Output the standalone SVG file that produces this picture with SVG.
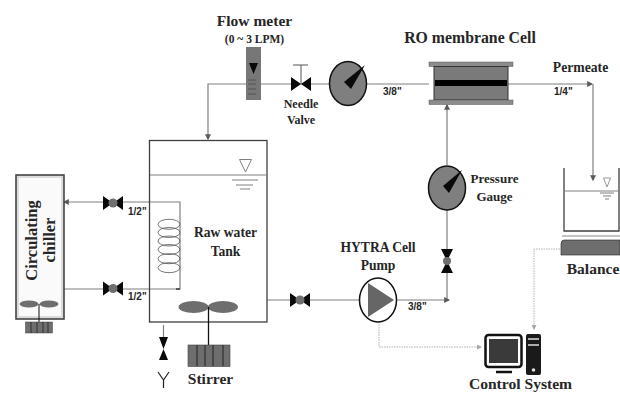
<svg xmlns="http://www.w3.org/2000/svg" width="620" height="393" viewBox="0 0 620 393">
<style>
.t{font-family:"Liberation Serif",serif;font-weight:bold;fill:#262626;text-anchor:middle}
.s{font-family:"Liberation Sans",sans-serif;font-weight:bold;font-size:10px;fill:#262626}
.p{fill:none;stroke:#7f7f7f;stroke-width:1.2}
.d{fill:none;stroke:#b0b0b0;stroke-width:1;stroke-dasharray:1.5 1}
.o{fill:none;stroke:#3f3f3f;stroke-width:1.3}
.l{fill:none;stroke:#7f7f7f;stroke-width:1}
.g{fill:#7f7f7f;stroke:#111;stroke-width:1.5}
.gr{fill:#6e6e6e}
.k{fill:#0a0a0a}
</style>
<defs>
<marker id="a" markerWidth="5" markerHeight="5" refX="4" refY="2.5" orient="auto"><path d="M0 0L5 2.5L0 5Z" fill="#595959"/></marker>
<marker id="b" markerWidth="5" markerHeight="5" refX="4" refY="2.5" orient="auto"><path d="M0 0L5 2.5L0 5Z" fill="#a6a6a6"/></marker>
<g id="hv"><path d="M-10-7L0 0L-10 7ZM10-7L0 0L10 7Z" fill="#0a0a0a"/><circle r="4.5" fill="#6e6e6e"/></g>
<g id="vv"><path d="M-6-12L0 0L6-12ZM-6 12L0 0L6 12Z" fill="#0a0a0a"/><circle r="4" fill="#6e6e6e"/></g>
</defs>
<g id="connectors">
<path class="p" d="M246 84H208V139" marker-end="url(#a)"/>
<path class="p" d="M261 84H429M508 84H592" marker-end="url(#a)"/>
<path class="p" d="M593 84V180" marker-end="url(#a)"/>
<path class="p" d="M447 165V105" marker-end="url(#a)"/>
<path class="p" d="M447 210V300"/>
<path class="p" d="M397 300H449" marker-end="url(#a)"/>
<path class="p" d="M267 300H359"/>
<path class="p" d="M150 202H64" marker-end="url(#a)"/>
<path class="p" d="M64 289H150"/>
<path class="p" d="M163.500 325V338"/>
<path class="d" d="M560 249H534V329" marker-end="url(#b)"/>
<path class="d" d="M379 322V347H481" marker-end="url(#b)"/>
</g>
<g id="tank">
<rect x="149.500" y="140.500" width="117.500" height="181.500" fill="#fff" stroke="#3f3f3f" stroke-width="1.300"/>
<path class="l" d="M150 175H267"/>
<path d="M239.500 159.500H251.500L245.500 172Z" fill="#fff" stroke="#7f7f7f"/>
<path class="l" d="M232 180H258M236 185H253M240 189H250"/>
<path class="p" d="M150 202H180V289H150"/>
<path d="M176 289H180" stroke="#595959" stroke-width="2"/>
<g fill="none" stroke="#555" stroke-width=".8">
<ellipse cx="169" cy="224.300" rx="11" ry="5"/><ellipse cx="169" cy="232.500" rx="11" ry="5"/><ellipse cx="169" cy="241" rx="11" ry="5"/><ellipse cx="169" cy="249.500" rx="11" ry="5"/><ellipse cx="169" cy="258.700" rx="11" ry="5"/><ellipse cx="169" cy="267.700" rx="11" ry="5"/>
</g>
<ellipse cx="193.500" cy="307" rx="15" ry="6" class="gr"/><ellipse cx="223" cy="307" rx="15" ry="6" class="gr"/>
<path d="M208.500 307V345" stroke="#111" stroke-width="1.300" fill="none"/>
<text class="t" x="225.500" y="237" font-size="13.600">Raw water</text>
<text class="t" x="225.500" y="256" font-size="13.600">Tank</text>
</g>
<g id="stirrer">
<rect x="188" y="345" width="42" height="21.500" class="gr" stroke="#444" stroke-width=".6"/>
<path d="M197 345V366M205 345V366M213 345V366M223 345V366" stroke="#222" stroke-width="1"/>
<text class="t" x="210.500" y="384" font-size="15.500">Stirrer</text>
</g>
<g id="drain-valve"><path d="M159 337H168L163.500 349ZM159 360H168L163.500 349Z" class="k"/><path d="M163.500 380V388M158 372L163.500 380L169 372" fill="none" stroke="#222" stroke-width="1.200"/></g>
<g id="chiller">
<rect x="16" y="175" width="48" height="144" fill="#dcdcdc" stroke="#444" stroke-width="1.600"/>
<rect x="19" y="178" width="42" height="138" fill="#fafafa"/>
<text class="t" font-size="16.500" transform="translate(37 240.500) rotate(-90)">Circulating</text>
<text class="t" font-size="16.500" transform="translate(55 240) rotate(-90)">chiller</text>
<ellipse cx="29" cy="304" rx="9.500" ry="3.500" class="gr"/><ellipse cx="49" cy="304" rx="9.500" ry="3.500" class="gr"/>
<path d="M39 304V322" stroke="#111" fill="none"/>
<rect x="25.500" y="322" width="27" height="11" class="gr" stroke="#444" stroke-width=".5"/>
<path d="M31 322V333M37 322V333M43 322V333M48 322V333" stroke="#222" stroke-width=".8"/>
</g>
<use id="valve-upper" href="#hv" x="113" y="203"/>
<use id="valve-lower" href="#hv" x="113" y="288.500"/>
<use id="valve-tank" href="#hv" x="300" y="300"/>
<text class="s" x="128" y="215">1/2"</text>
<text class="s" x="128" y="300">1/2"</text>
<g id="flow-meter">
<rect x="246" y="47" width="15" height="53" fill="#777"/>
<path d="M249 63H258L253.500 74Z" class="k"/>
<path d="M248 80H256M248 84H256M248 89H256M248 94H256" stroke="#555" fill="none"/>
<text class="t" x="254.500" y="26" font-size="15.500">Flow meter</text>
<text class="t" x="254.500" y="42.500" font-size="11.500">(0 ~ 3 LPM)</text>
</g>
<g id="needle-valve">
<path d="M291 77L301 84L291 91ZM311 77L301 84L311 91Z" class="k"/>
<path d="M293 65H308M301 65V84" stroke="#555" fill="none"/>
<text class="t" x="301" y="108" font-size="12">Needle</text>
<text class="t" x="301" y="124" font-size="12">Valve</text>
</g>
<g id="flow-gauge">
<ellipse cx="348" cy="83.500" rx="18.500" ry="22" class="g"/>
<path d="M365 65L351 89L344 82Z" class="k"/>
</g>
<text class="s" x="383" y="95">3/8"</text>
<g id="ro-cell">
<rect x="429" y="62" width="84" height="4.500" fill="#8c8c8c" stroke="#555" stroke-width=".5"/>
<rect x="434" y="66.500" width="74" height="33.500" fill="#7a7a7a" stroke="#333"/>
<rect x="435" y="80" width="72" height="6" fill="#000"/>
<rect x="429" y="100" width="84" height="4.500" fill="#8c8c8c" stroke="#555" stroke-width=".5"/>
<text class="t" x="470" y="43" font-size="15.800">RO membrane Cell</text>
</g>
<text class="t" x="580.500" y="72" font-size="13.700">Permeate</text>
<text class="s" x="554" y="95">1/4"</text>
<g id="pressure-gauge">
<ellipse cx="447" cy="188" rx="18.500" ry="22" class="g"/>
<path d="M462 170L449 193L443 186Z" class="k"/>
<text class="t" x="494.500" y="183" font-size="13">Pressure</text>
<text class="t" x="494.500" y="201" font-size="13">Gauge</text>
</g>
<use id="valve-pump" href="#vv" x="447" y="261"/>
<g id="pump">
<ellipse cx="378" cy="300" rx="18.500" ry="22" fill="#fff" stroke="#111" stroke-width="1.500"/>
<path d="M368 283L394 300L368 317Z" fill="#666"/>
<text class="t" x="378" y="252" font-size="13.600">HYTRA Cell</text>
<text class="t" x="378" y="270" font-size="13.600">Pump</text>
</g>
<text class="s" x="408" y="310">3/8"</text>
<g id="beaker">
<path class="o" d="M564 168V231H619V168" stroke-width="1"/>
<path class="l" d="M564 191H619"/>
<path d="M603.500 178H610.500L607 187Z" fill="#fff" stroke="#7f7f7f" stroke-width=".8"/>
<path class="l" d="M600 193H614M603 196H611M605 199H609"/>
</g>
<g id="balance">
<path d="M562 236H620" stroke="#888" fill="none"/>
<path d="M564 240H620V255H561V244Q561 240 564 240Z" fill="#6e6e6e" stroke="#222" stroke-width=".6"/>
<text class="t" x="593" y="274" font-size="15.500">Balance</text>
</g>
<g id="control-system">
<rect x="485.500" y="335" width="36" height="32" rx="3" fill="#fff" stroke="#111" stroke-width="2.500"/>
<rect x="489" y="339" width="29" height="24" fill="#3a3a3a"/>
<path d="M496 372H512" stroke="#111" stroke-width="2.500"/>
<rect x="526" y="334" width="15" height="41" rx="2" fill="#1a1a1a"/>
<path d="M528 339H539M528 345H539" stroke="#ddd" stroke-width="1.500"/>
<circle cx="533.500" cy="370" r="1.800" fill="#ddd"/>
<text class="t" x="520.500" y="388.500" font-size="15.600">Control System</text>
</g>
</svg>
